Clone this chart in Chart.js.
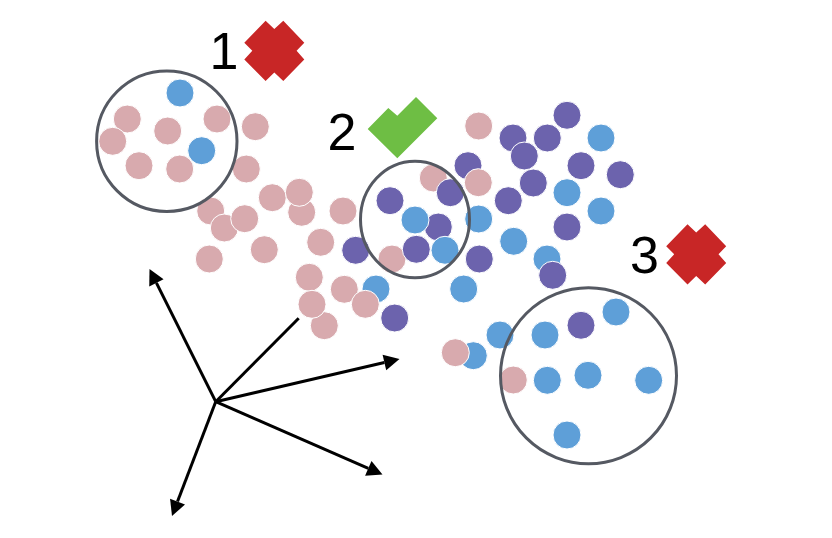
<!DOCTYPE html>
<html>
<head>
<meta charset="utf-8">
<style>html,body{margin:0;padding:0;background:#fff}canvas{display:block}</style>
<script src="https://cdn.jsdelivr.net/npm/chart.js@4"></script>
</head>
<body>
<canvas id="c" width="832" height="538"></canvas>
<script>
const blueBack = [[180,93],[201.7,150.7],[601,138],[567,192.7],[601,211],[478.7,219],[513.7,241.3],[547,259],[463.7,289],[376,289],
  [616,312],[545,335],[500,335],[473.3,355.7],[547.3,380.3],[588,375.3],[648.7,380.3],[567,435]];
const pinkBack = [[433.3,178],[392,259]];
const purple = [[567,115.3],[513,138],[547.3,138],[524.3,156],[468,165.7],[581,165.7],[620.3,174.7],[533.3,183],[450.3,192.7],
  [508.3,200.7],[390,200.7],[438.3,227],[567,227],[416.3,249.3],[479.3,259],[355.7,250.3],[552.7,275.3],[394.7,318],[581,325.3]];
const blueFront = [[415,220],[445,250.3]];
const pinkFront = [[478.7,126],[478.3,182.7],[344.3,289.3],[365.3,304.3],[127.3,119],[112.7,141.3],[167.7,131],[217,119],[255.3,126.7],
  [139,165.7],[179.7,169],[246.3,169],[272.3,197.7],[301.7,212.3],[299.3,192.3],[343,211],[210.7,211],[224.3,228],[244.7,218.7],
  [264.3,249.7],[320.7,242.3],[209.3,259],[309.3,277.3],[324.3,325.7],[312,304.3],[455.3,352.7],[513.3,380]];
const rings = [[166.8,141.2,70.2,70.2],[415,219.5,54.5,58.3],[588.5,375.7,88,88]];
const arrowOrigin = [215.7,401.7];
const arrowTips = [[149.5,269],[399.5,359],[382.5,474.5],[172,516]];
const plainLineEnd = [298.7,318.3];
const badgeLabels = ["1","2","3"];
const badgeLabelPos = [[224,55],[342,136],[644.5,259]];
const crossShape = [[-8.7,-30],[0,-21.7],[9,-30],[30,-8],[22.3,0],[30,8.7],[9,30.3],[0,21.7],[-8.7,30.3],[-30,8.7],[-22,0],[-30,-8]];
const crossCentres = [[274.3,50.7],[696.2,254.3]];
const checkShape = [[367.7,129],[388.3,108],[397.3,115.7],[416,97],[437.3,118.3],[397.3,158.3]];

const toPts = a => a.map(p => ({x:p[0],y:p[1]}));
const PINK='#d8aaae', PURPLE='#6c63ad', BLUE='#5e9fd8', RING='#555962', RED='#c82626', GREEN='#6ebe44';
const layer = (d,c) => ({data:toPts(d),backgroundColor:c,borderColor:'#ffffff',borderWidth:1,pointRadius:14,pointHoverRadius:14,clip:false});

const decor = {
  id:'decor',
  beforeDatasetsDraw(ch){
    const g=ch.ctx,X=ch.scales.x,Y=ch.scales.y;
    const px=p=>[X.getPixelForValue(p[0]),Y.getPixelForValue(p[1])];
    g.save();
    g.strokeStyle='#000';g.fillStyle='#000';g.lineWidth=3;
    const o=px(arrowOrigin);
    const end=px(plainLineEnd);
    g.beginPath();g.moveTo(o[0],o[1]);g.lineTo(end[0],end[1]);g.stroke();
    arrowTips.forEach(t=>{
      const e=px(t),a=Math.atan2(e[1]-o[1],e[0]-o[0]),L=15.5,W=8;
      const bx=e[0]-L*Math.cos(a),by=e[1]-L*Math.sin(a);
      g.beginPath();g.moveTo(o[0],o[1]);g.lineTo(bx,by);g.stroke();
      g.beginPath();g.moveTo(e[0],e[1]);
      g.lineTo(bx-W*Math.sin(a),by+W*Math.cos(a));
      g.lineTo(bx+W*Math.sin(a),by-W*Math.cos(a));
      g.closePath();g.fill();
    });
    g.fillStyle=RED;
    crossCentres.forEach(c=>{
      g.beginPath();
      crossShape.forEach((s,i)=>{const q=px([c[0]+s[0],c[1]+s[1]]);i?g.lineTo(q[0],q[1]):g.moveTo(q[0],q[1]);});
      g.closePath();g.fill();
    });
    g.fillStyle=GREEN;
    g.beginPath();
    checkShape.forEach((s,i)=>{const q=px(s);i?g.lineTo(q[0],q[1]):g.moveTo(q[0],q[1]);});
    g.closePath();g.fill();
    g.fillStyle='#000';g.font='52px "Liberation Sans", Arial, sans-serif';g.textAlign='center';g.textBaseline='middle';
    badgeLabels.forEach((t,i)=>{const q=px(badgeLabelPos[i]);g.fillText(t,q[0],q[1]);});
    g.restore();
  },
  afterDatasetsDraw(ch){
    const g=ch.ctx,X=ch.scales.x,Y=ch.scales.y;
    g.save();g.strokeStyle=RING;g.lineWidth=3;
    rings.forEach(r=>{
      g.beginPath();
      g.ellipse(X.getPixelForValue(r[0]),Y.getPixelForValue(r[1]),r[2],r[3],0,0,Math.PI*2);
      g.stroke();
    });
    g.restore();
  }
};

new Chart(document.getElementById('c'),{
  type:'scatter',
  data:{datasets:[layer(pinkFront,PINK),layer(blueFront,BLUE),layer(purple,PURPLE),layer(pinkBack,PINK),layer(blueBack,BLUE)]},
  options:{
    responsive:false,animation:false,
    layout:{padding:0,autoPadding:false},
    plugins:{legend:{display:false},tooltip:{enabled:false},title:{display:false}},
    scales:{
      x:{type:'linear',min:0,max:832,display:false},
      y:{type:'linear',min:0,max:538,reverse:true,display:false}
    }
  },
  plugins:[decor]
});
</script>
</body>
</html>
